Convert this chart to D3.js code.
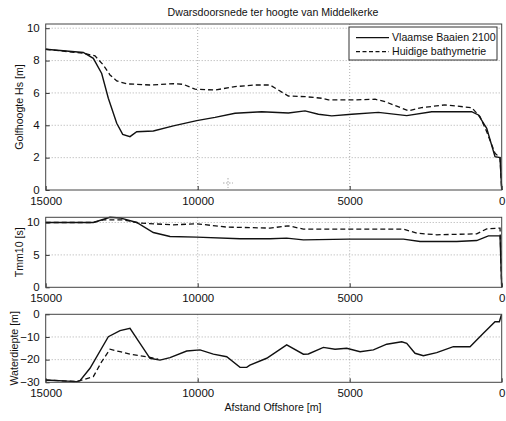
<!DOCTYPE html>
<html><head><meta charset="utf-8">
<script src="https://cdn.jsdelivr.net/npm/d3@7"></script>
<style>
body{margin:0;background:#fff;}
text{font-family:"Liberation Sans",Arial,sans-serif;fill:#111;}
</style></head>
<body><svg id="c" width="506" height="421"></svg>
<script>
const title = "Dwarsdoorsnede ter hoogte van Middelkerke";
const seriesNames = ["Vlaamse Baaien 2100", "Huidige bathymetrie"];
const xTicks = [15000, 10000, 5000, 0];

// Golfhoogte Hs [m]
const hsDist2100 = [15000,13763,13434,13158,12940,12664,12467,12227,12006,11460,10802,10032,9430,8772,7895,7018,6469,6030,5591,4932,4056,3124,2302,988,768,493,220,55,0];
const hs2100     = [8.7,8.5,8.14,7.2,5.67,4.12,3.44,3.3,3.6,3.65,3.96,4.29,4.49,4.74,4.84,4.76,4.89,4.68,4.58,4.68,4.8,4.6,4.84,4.84,4.64,3.81,2.06,2.0,0];
const hsDistNow  = [15000,13763,13378,13105,12885,12664,12335,11569,10802,10473,10087,9430,8772,8114,7621,7347,7018,6469,5920,5701,4849,4166,3837,3071,2632,1865,988,712,493,220,55,0];
const hsNow      = [8.7,8.45,8.29,7.73,7.11,6.74,6.56,6.49,6.57,6.53,6.23,6.18,6.39,6.49,6.49,6.18,5.81,5.77,5.67,5.57,5.57,5.61,5.46,4.9,5.09,5.26,5.09,4.53,3.6,2.27,2.0,0];
const hsTicks = [0,2,4,6,8,10];

// Tmm10 [s]
const tDist2100 = [15000,13434,12885,12555,12006,11460,10911,10032,8607,7621,7073,6524,5044,3234,2686,1480,822,438,55,0];
const t2100     = [10.0,10.0,10.8,10.7,10.0,8.45,7.83,7.74,7.48,7.48,7.58,7.32,7.43,7.43,7.06,7.06,7.21,7.94,7.94,0];
const tDistNow  = [15000,13434,13105,12445,11898,10802,10032,9045,7621,7018,6524,5044,3234,2796,2138,822,493,55,0];
const tNow      = [10.0,10.0,10.4,10.4,9.9,9.64,9.8,9.29,9.13,9.49,8.98,8.98,8.98,8.36,8.1,8.25,9.02,9.13,0];
const tTicks = [0,5,10];

// Waterdiepte [m]
const dDist2100 = [15000,13980,13872,13543,12940,12555,12227,11898,11569,11240,10911,10362,9924,9486,9045,8607,8388,8283,7731,7073,6524,6360,5866,5482,5098,4659,4221,3782,3288,3124,2851,2577,2138,1590,1042,603,220,77,10];
const d2100     = [-29.0,-29.7,-29.3,-23.8,-9.9,-7.2,-6.2,-12.8,-19.4,-20.2,-19.1,-16.2,-15.7,-17.6,-18.7,-23.4,-23.4,-22.4,-19.4,-13.5,-17.6,-17.5,-14.6,-15.4,-15.0,-16.5,-15.7,-13.2,-12.1,-12.8,-17.2,-18.3,-16.9,-14.3,-14.3,-8.4,-3.3,-3.3,-0.3];
const dDistNow  = [15000,13980,13872,13434,13158,12885,12555,12227,11569,11300];
const dNow      = [-29.0,-29.7,-29.3,-27.5,-20.9,-15.4,-16.5,-17.6,-19.0,-19.8];
const dTicks = [-30,-20,-10,0];

const svg = d3.select("#c");
const x = d3.scaleLinear().domain([15000,0]).range([45.7,501.7]);
const labelSize = "10.6px", tickSize = "11.5px";

function panel(cfg){
  const y = d3.scaleLinear().domain(cfg.domain).range([cfg.bottom, cfg.top]);
  const g = svg.append("g");
  g.selectAll(".gx").data(xTicks.filter(t=>t!==15000 && t!==0)).enter().append("line")
    .attr("x1",d=>x(d)).attr("x2",d=>x(d)).attr("y1",cfg.top).attr("y2",cfg.bottom)
    .attr("stroke","#999").attr("stroke-width",0.8).attr("stroke-dasharray","1,2");
  g.selectAll(".gy").data(cfg.ticks.filter(t=>y(t)>cfg.top+1 && y(t)<cfg.bottom-1)).enter().append("line")
    .attr("x1",x(15000)).attr("x2",x(0)).attr("y1",d=>y(d)).attr("y2",d=>y(d))
    .attr("stroke","#999").attr("stroke-width",0.8).attr("stroke-dasharray","1,2");
  const ax = d3.axisBottom(x).tickValues(xTicks).tickSize(-4).tickPadding(8).tickFormat(d3.format("d"));
  const ga = g.append("g").attr("transform",`translate(0,${cfg.bottom})`).call(ax);
  const ay = d3.axisLeft(y).tickValues(cfg.ticks).tickSize(-4).tickPadding(6).tickFormat(d3.format("d"));
  const gy = g.append("g").attr("transform",`translate(${x(15000)},0)`).call(ay);
  [ga,gy].forEach(a=>{
    a.select(".domain").remove();
    a.selectAll(".tick line").attr("stroke","#333");
    a.selectAll("text").style("font-size",tickSize).attr("fill","#111");
  });
  ga.selectAll("text").attr("dy","0.6em");
  gy.selectAll("text").attr("dy","0.28em");
  const line = d3.line().x(d=>x(d[0])).y(d=>y(d[1]));
  g.append("path").datum(d3.zip(cfg.dNow,cfg.vNow)).attr("d",line)
    .attr("fill","none").attr("stroke","#111").attr("stroke-width",1.3).attr("stroke-dasharray","5,3");
  g.append("path").datum(d3.zip(cfg.d2100,cfg.v2100)).attr("d",line)
    .attr("fill","none").attr("stroke","#111").attr("stroke-width",1.4);
  g.append("rect").attr("x",x(15000)).attr("y",cfg.top).attr("width",x(0)-x(15000)).attr("height",cfg.bottom-cfg.top)
    .attr("fill","none").attr("stroke","#444").attr("stroke-width",1);
  g.append("text").attr("transform",`translate(${cfg.lx},${(cfg.top+cfg.bottom)/2}) rotate(-90)`)
    .attr("text-anchor","middle").attr("dy","0.35em").style("font-size",labelSize).text(cfg.label);
  return y;
}

panel({domain:[0,10.26],top:24,bottom:190,ticks:hsTicks,label:"Golfhoogte Hs [m]",lx:19,
  d2100:hsDist2100,v2100:hs2100,dNow:hsDistNow,vNow:hsNow});
panel({domain:[0,10.8],top:217.3,bottom:287.3,ticks:tTicks,label:"Tmm10 [s]",lx:19,
  d2100:tDist2100,v2100:t2100,dNow:tDistNow,vNow:tNow});
panel({domain:[-30,0],top:314.3,bottom:382.3,ticks:dTicks,label:"Waterdiepte [m]",lx:14,
  d2100:dDist2100,v2100:d2100,dNow:dDistNow,vNow:dNow});

svg.append("text").attr("x",273).attr("y",12).attr("text-anchor","middle").attr("dy","0.35em")
  .style("font-size",labelSize).text(title);
svg.append("text").attr("x",273).attr("y",407).attr("text-anchor","middle").attr("dy","0.35em")
  .style("font-size",labelSize).text("Afstand Offshore [m]");

const lg = svg.append("g");
lg.append("rect").attr("x",349).attr("y",27).attr("width",148).attr("height",33)
  .attr("fill","#fff").attr("stroke","#333").attr("stroke-width",1);
seriesNames.forEach((n,i)=>{
  const yy = 37.7 + i*14;
  lg.append("line").attr("x1",356).attr("x2",389).attr("y1",yy).attr("y2",yy)
    .attr("stroke","#111").attr("stroke-width",1.3).attr("stroke-dasharray", i===1 ? "4,2.5" : null);
  lg.append("text").attr("x",392).attr("y",yy).attr("dy","0.35em").style("font-size",labelSize).text(n);
});

const cx=228, cy=183;
svg.append("path").attr("d",`M${cx-5},${cy}H${cx+5}M${cx},${cy-5}V${cy+5}`)
  .attr("stroke","#aaa").attr("stroke-width",1).attr("stroke-dasharray","1.5,1.5");
</script></body></html>
